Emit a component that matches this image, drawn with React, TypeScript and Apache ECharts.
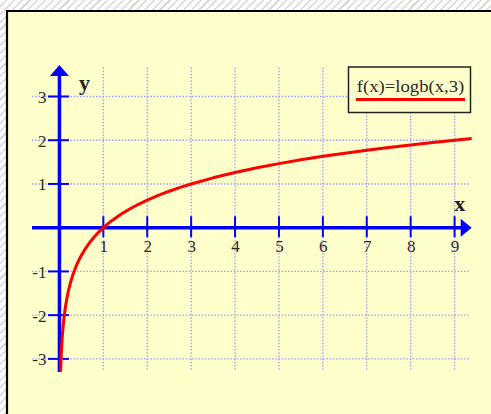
import React, { useEffect, useRef } from "react";
import * as echarts from "echarts";

// Function plotted and its name in the legend box
const SERIES_NAME = "f(x)=logb(x,3)";

// Points along the curve y = log base 3 of x
const CURVE_X = [0.027, 0.032, 0.04, 0.05, 0.06, 0.07, 0.085, 0.1, 0.12, 0.14, 0.17, 0.2, 0.25, 0.3, 0.35, 0.4, 0.45, 0.5, 0.6, 0.7, 0.8, 0.9, 1, 1.1, 1.2, 1.4, 1.6, 1.8, 2, 2.25, 2.5, 2.75, 3, 3.5, 4, 4.5, 5, 5.5, 6, 6.5, 7, 7.5, 8, 8.5, 9, 9.39];
const CURVE_Y = [-3.29, -3.13, -2.93, -2.727, -2.561, -2.421, -2.244, -2.096, -1.93, -1.79, -1.613, -1.465, -1.262, -1.096, -0.956, -0.834, -0.727, -0.631, -0.465, -0.325, -0.203, -0.096, 0, 0.087, 0.166, 0.306, 0.428, 0.535, 0.631, 0.738, 0.834, 0.921, 1, 1.14, 1.262, 1.369, 1.465, 1.552, 1.631, 1.704, 1.771, 1.834, 1.893, 1.948, 2, 2.037];

// Tick values on each axis (0 is the origin and carries no label)
const X_TICKS = [1, 2, 3, 4, 5, 6, 7, 8, 9];
const Y_TICKS = [-3, -2, -1, 1, 2, 3];

// Plot extents in data units
const X_MIN = -0.625;
const X_MAX = 9.39;
const Y_MIN = -3.3;
const Y_MAX = 3.72;
const GRID_X_END = 9.35;
const GRID_Y_END = 3.7;
const GRID_Y_START = -3.25;

const SERIF = '"Liberation Serif", "Times New Roman", serif';
const AXIS_BLUE = "#0000ff";
const GRID_BLUE = "#a3a3ff";

export default function App() {
  const ref = useRef<HTMLDivElement>(null);

  useEffect(() => {
    if (!ref.current) return;
    const chart = echarts.init(ref.current, undefined, { renderer: "svg" });

    const curve = CURVE_X.map((x, i) => [x, CURVE_Y[i]]);

    const gridItem = (_params: any, api: any) => {
      const children: any[] = [];
      X_TICKS.forEach((v) => {
        const a = api.coord([v, GRID_Y_START]);
        const b = api.coord([v, GRID_Y_END]);
        children.push({
          type: "line",
          shape: { x1: a[0], y1: a[1], x2: b[0], y2: b[1] },
          style: { stroke: GRID_BLUE, lineWidth: 1.4, lineDash: [1.6, 1.6] },
        });
      });
      Y_TICKS.forEach((v) => {
        const a = api.coord([X_MIN, v]);
        const b = api.coord([GRID_X_END, v]);
        children.push({
          type: "line",
          shape: { x1: a[0], y1: a[1], x2: b[0], y2: b[1] },
          style: { stroke: GRID_BLUE, lineWidth: 1.4, lineDash: [1.6, 1.6] },
        });
      });
      return { type: "group", children };
    };

    const axesItem = (_params: any, api: any) => {
      const o = api.coord([0, 0]);
      const left = api.coord([X_MIN, 0]);
      const right = api.coord([X_MAX, 0]);
      const top = api.coord([0, Y_MAX]);
      const bottom = api.coord([0, Y_MIN]);
      const head = 11;
      const half = 9;
      const children: any[] = [
        {
          type: "line",
          shape: { x1: left[0], y1: o[1], x2: right[0] - head + 1, y2: o[1] },
          style: { stroke: AXIS_BLUE, lineWidth: 3.5 },
        },
        {
          type: "polygon",
          shape: { points: [[right[0], o[1]], [right[0] - head, o[1] - half], [right[0] - head, o[1] + half]] },
          style: { fill: AXIS_BLUE },
        },
        {
          type: "line",
          shape: { x1: o[0], y1: bottom[1], x2: o[0], y2: top[1] + head - 1 },
          style: { stroke: AXIS_BLUE, lineWidth: 3.5 },
        },
        {
          type: "polygon",
          shape: { points: [[o[0], top[1]], [o[0] - half - 0.5, top[1] + head], [o[0] + half + 0.5, top[1] + head]] },
          style: { fill: AXIS_BLUE },
        },
      ];
      X_TICKS.forEach((v) => {
        const p = api.coord([v, 0]);
        children.push({
          type: "line",
          shape: { x1: p[0], y1: p[1] - 11.5, x2: p[0], y2: p[1] + 9.5 },
          style: { stroke: AXIS_BLUE, lineWidth: 2 },
        });
        children.push({
          type: "text",
          style: {
            text: String(v),
            x: p[0] + 0.5,
            y: p[1] + 18.5,
            align: "center",
            verticalAlign: "middle",
            textAlign: "center",
            textVerticalAlign: "middle",
            font: `17px ${SERIF}`,
            fill: "#2a2a2a",
          },
        });
      });
      Y_TICKS.forEach((v) => {
        const p = api.coord([0, v]);
        children.push({
          type: "line",
          shape: { x1: p[0] - 11.5, y1: p[1], x2: p[0] + 9.5, y2: p[1] },
          style: { stroke: AXIS_BLUE, lineWidth: 2 },
        });
        children.push({
          type: "text",
          style: {
            text: String(v),
            x: p[0] - 13,
            y: p[1] + 1,
            align: "right",
            verticalAlign: "middle",
            textAlign: "right",
            textVerticalAlign: "middle",
            font: `17px ${SERIF}`,
            fill: "#2a2a2a",
          },
        });
      });
      // axis names
      children.push({
        type: "text",
        style: {
          text: "y",
          x: o[0] + 25,
          y: top[1] + 17,
          align: "center",
          verticalAlign: "middle",
          textAlign: "center",
          textVerticalAlign: "middle",
          font: `bold 22px ${SERIF}`,
          fill: "#222",
        },
      });
      children.push({
        type: "text",
        style: {
          text: "x",
          x: right[0] - 12,
          y: o[1] - 24,
          align: "center",
          verticalAlign: "middle",
          textAlign: "center",
          textVerticalAlign: "middle",
          font: `bold 22px ${SERIF}`,
          fill: "#222",
        },
      });
      return { type: "group", children };
    };

    chart.setOption({
      animation: false,
      backgroundColor: "transparent",
      grid: { left: 32, right: 19.3, top: 65, bottom: 42, containLabel: false },
      xAxis: { type: "value", min: X_MIN, max: X_MAX, show: false },
      yAxis: { type: "value", min: Y_MIN, max: Y_MAX, show: false },
      graphic: [
        {
          type: "rect",
          z: -10,
          silent: true,
          shape: { x: 7, y: 11, width: 500, height: 420 },
          style: { fill: "#ffffcc", stroke: "#000", lineWidth: 2.2 },
        },
        {
          type: "rect",
          z: 100,
          shape: { x: 348.5, y: 67, width: 122, height: 45.5 },
          style: { fill: "#ffffcc", stroke: "#222", lineWidth: 1.5 },
        },
        {
          type: "text",
          z: 101,
          x: 410.5,
          y: 86,
          scaleX: 1.1,
          style: {
            text: SERIES_NAME,
            align: "center",
            verticalAlign: "middle",
            textAlign: "center",
            textVerticalAlign: "middle",
            font: `17px ${SERIF}`,
            fill: "#2a2a2a",
          },
        },
        {
          type: "line",
          z: 101,
          shape: { x1: 356, y1: 99.5, x2: 465, y2: 99.5 },
          style: { stroke: "#ff0000", lineWidth: 3 },
        },
      ],
      series: [
        {
          type: "custom",
          z: 1,
          silent: true,
          clip: false,
          renderItem: gridItem,
          data: [[0, 0]],
        },
        {
          type: "custom",
          z: 3,
          silent: true,
          clip: false,
          renderItem: axesItem,
          data: [[0, 0]],
        },
        {
          name: SERIES_NAME,
          type: "line",
          z: 5,
          data: curve,
          smooth: false,
          showSymbol: false,
          clip: false,
          lineStyle: { color: "#ff0000", width: 3 },
        },
      ],
    });

    return () => chart.dispose();
  }, []);

  return (
    <div
      style={{
        position: "absolute",
        left: 0,
        top: 0,
        width: 491,
        height: 414,
        background:
          "repeating-linear-gradient(135deg, #ffffff 0px, #ffffff 4px, #d9d9d9 4px, #d9d9d9 5.5px)",
        overflow: "hidden",
      }}
    >
      <div ref={ref} style={{ width: 491, height: 414 }} />
    </div>
  );
}
